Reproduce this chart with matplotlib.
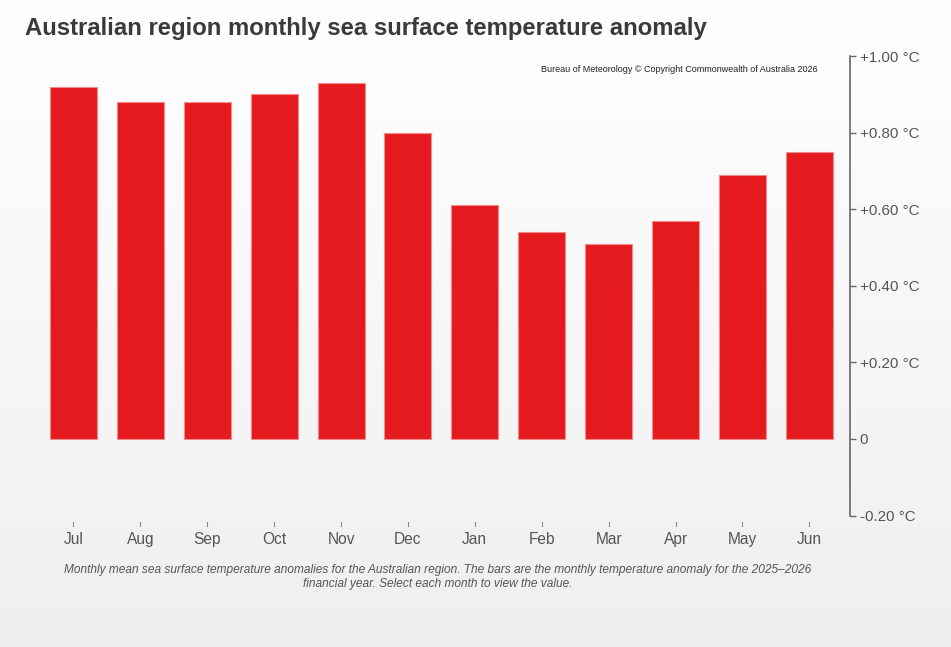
import matplotlib
matplotlib.use("Agg")
import matplotlib.pyplot as plt
import numpy as np
from matplotlib.colors import LinearSegmentedColormap

months = ["Jul", "Aug", "Sep", "Oct", "Nov", "Dec", "Jan", "Feb", "Mar", "Apr", "May", "Jun"]
anomaly = [0.92, 0.88, 0.88, 0.90, 0.93, 0.80, 0.61, 0.54, 0.51, 0.57, 0.69, 0.75]
ytick_vals = [-0.2, 0.0, 0.2, 0.4, 0.6, 0.8, 1.0]
ytick_labels = ["-0.20 °C", "0", "+0.20 °C", "+0.40 °C", "+0.60 °C", "+0.80 °C", "+1.00 °C"]

title = "Australian region monthly sea surface temperature anomaly"
credit = "Bureau of Meteorology © Copyright Commonwealth of Australia 2026"
caption = ("Monthly mean sea surface temperature anomalies for the Australian region. The bars are the monthly temperature anomaly for the 2025–2026\n"
           "financial year. Select each month to view the value.")

plt.rcParams['font.family'] = ['Liberation Sans', 'DejaVu Sans']

W, H = 951, 647
fig = plt.figure(figsize=(W / 100, H / 100), dpi=100)

# background gradient
bg = fig.add_axes([0, 0, 1, 1], zorder=-10)
cmap = LinearSegmentedColormap.from_list("bg", ["#ffffff", "#efefef"])
grad = np.linspace(0, 1, 256).reshape(-1, 1)
bg.imshow(grad, aspect="auto", cmap=cmap, extent=[0, 1, 0, 1], origin="upper")
bg.set_axis_off()

# plot area in pixel coords
left_px, right_px = 40, 850
step_px = 66.9
ytop_px = 56
ybot_px = 515.6
ax = fig.add_axes([left_px / W, 1 - ybot_px / H, (right_px - left_px) / W, (ybot_px - ytop_px) / H])
ax.patch.set_alpha(0)

x = np.arange(len(months))
ax.bar(x, anomaly, width=47 / step_px, color="#e51a1e", edgecolor="#f08a8c", linewidth=0.8)

ax.set_xlim(-0.5, -0.5 + (right_px - left_px) / step_px)
ax.set_ylim(-0.2, 1.0)

for s in ["top", "left", "bottom"]:
    ax.spines[s].set_visible(False)
ax.spines["right"].set_color("#666666")
ax.spines["right"].set_linewidth(1.2)
ax.yaxis.tick_right()
ax.set_yticks(ytick_vals)
ax.set_yticklabels(ytick_labels)
ax.tick_params(axis="y", direction="out", length=4, width=1, color="#666666",
               labelcolor="#555555", labelsize=10.9, pad=3)

ax.set_xticks(x)
ax.set_xticklabels(months)
ax.tick_params(axis="x", direction="in", length=0, labelcolor="#555555", labelsize=11.2, pad=12)
# small tick marks above labels
for xi in x:
    ax.plot([xi, xi], [-0.218, -0.228], color="#888888", lw=0.8, clip_on=False,
            transform=ax.transData)

fig.text(25 / W, 1 - 28 / H, title, fontsize=17.2, fontweight="bold", color="#3a3a3a",
         ha="left", va="center")
fig.text(818 / W, 1 - 70 / H, credit, fontsize=6.45, color="#222222", ha="right", va="center")
fig.text(438 / W, 1 - 577 / H, caption, fontsize=8.6, style="italic", color="#555555",
         ha="center", va="center", linespacing=1.15)

fig.savefig("out.png", dpi=100)
